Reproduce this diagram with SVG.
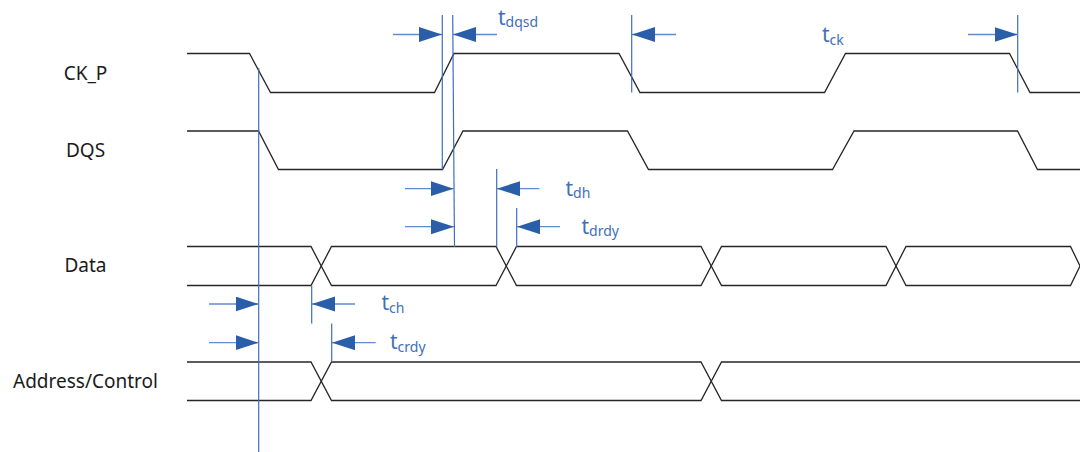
<svg xmlns="http://www.w3.org/2000/svg" width="1080" height="452" viewBox="0 0 1080 452">
<style>
.sig{fill:none;stroke:#262626;stroke-width:1.3;stroke-linejoin:miter}
.ref{stroke:#3f6fb8;stroke-width:1.2;fill:none}
.dim{stroke:#5f8ccc;stroke-width:1.3;fill:none;marker-end:url(#ah)}
.lbl{font-family:"Noto Sans","DejaVu Sans",sans-serif;font-size:19px;fill:#1a1a1a;text-anchor:middle}
.tl{font-family:"Noto Sans","DejaVu Sans",sans-serif;font-size:21px;fill:#3f6fb8}
.sub{font-size:14px}
</style>
<defs>
<marker id="ah" markerUnits="userSpaceOnUse" markerWidth="24" markerHeight="16" refX="23" refY="7.5" orient="auto">
<path d="M0,0 L23,7.5 L0,15 Z" fill="#2a5ea8"/>
</marker>
</defs>
<rect width="1080" height="452" fill="#ffffff"/>

<g id="ck_p">
<text class="lbl" x="85.5" y="80">CK_P</text>
<path class="sig" d="M187,53.5 H249.5 L270.5,92.5 H434.5 L454,53.5 H619 L640,92.5 H824.5 L845.5,53.5 H1009.5 L1030,92.5 H1080"/>
</g>
<g id="dqs">
<text class="lbl" x="85.5" y="157">DQS</text>
<path class="sig" d="M187,131 H258.5 L278.5,169.5 H442.5 L463,131 H627.5 L648.5,169.5 H832.5 L854,131 H1017.5 L1037.5,169.5 H1080"/>
</g>
<g id="data">
<text class="lbl" x="85.5" y="272">Data</text>
<path class="sig" d="M187,246.5 H311 L331.5,285.5 H496 L516.5,246.5 H701 L721.5,285.5 H886 L906,246.5 H1070.5 L1080,266"/>
<path class="sig" d="M187,285.5 H311 L331.5,246.5 H496 L516.5,285.5 H701 L721.5,246.5 H886 L906,285.5 H1070.5 L1080,266"/>
</g>
<g id="address_control">
<text class="lbl" x="85.5" y="387.5">Address/Control</text>
<path class="sig" d="M187,362 H311 L331.5,400.5 H701 L721.5,362 H1080"/>
<path class="sig" d="M187,400.5 H311 L331.5,362 H701 L721.5,400.5 H1080"/>
</g>

<g id="reference_lines">
<line class="ref" x1="258.7" y1="68" x2="258.7" y2="452"/>
<line class="ref" x1="442.3" y1="15" x2="442.3" y2="169.5"/>
<line class="ref" x1="452.7" y1="15" x2="454.5" y2="247"/>
<line class="ref" x1="631.7" y1="15" x2="631.7" y2="92.5"/>
<line class="ref" x1="1017.7" y1="15" x2="1017.7" y2="92.5"/>
<line class="ref" x1="496.7" y1="169" x2="496.7" y2="247"/>
<line class="ref" x1="516.7" y1="208" x2="516.7" y2="247"/>
<line class="ref" x1="311.7" y1="285.5" x2="311.7" y2="323.5"/>
<line class="ref" x1="331.7" y1="323.5" x2="331.7" y2="362"/>
</g>

<g id="connectors">
<line class="dim" x1="393" y1="34.5" x2="442" y2="34.5"/>
<line class="dim" x1="497" y1="34.5" x2="453" y2="34.5"/>
<line class="dim" x1="676" y1="34.5" x2="632" y2="34.5"/>
<line class="dim" x1="968" y1="34.5" x2="1017.5" y2="34.5"/>
<line class="dim" x1="405" y1="188.7" x2="453.5" y2="188.7"/>
<line class="dim" x1="539.5" y1="188.7" x2="497" y2="188.7"/>
<line class="dim" x1="405" y1="226.7" x2="454" y2="226.7"/>
<line class="dim" x1="560" y1="226.7" x2="517" y2="226.7"/>
<line class="dim" x1="209" y1="304" x2="258.5" y2="304"/>
<line class="dim" x1="355" y1="304" x2="312" y2="304"/>
<line class="dim" x1="209" y1="342.7" x2="258.5" y2="342.7"/>
<line class="dim" x1="375.7" y1="342.7" x2="332" y2="342.7"/>
</g>

<g id="timing_labels">
<text class="tl" x="498" y="25">t<tspan class="sub" dy="2">dqsd</tspan></text>
<text class="tl" x="822" y="42">t<tspan class="sub" dy="3">ck</tspan></text>
<text class="tl" x="565.5" y="196">t<tspan class="sub" dy="2">dh</tspan></text>
<text class="tl" x="581.5" y="234">t<tspan class="sub" dy="2">drdy</tspan></text>
<text class="tl" x="381.5" y="310">t<tspan class="sub" dy="3">ch</tspan></text>
<text class="tl" x="390" y="348.5">t<tspan class="sub" dy="3">crdy</tspan></text>
</g>
</svg>
